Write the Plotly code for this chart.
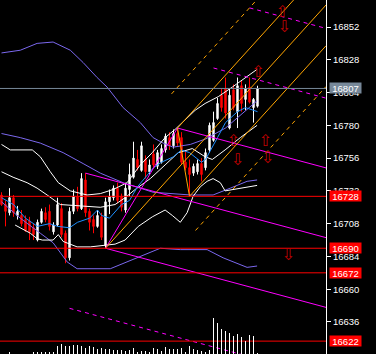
import plotly.graph_objects as go

# ---------------- data ----------------
opens = [16729, 16722, 16716, 16727, 16714, 16714, 16711, 16710, 16705, 16696,
         16709, 16716, 16717, 16702, 16707, 16719, 16701, 16683, 16717, 16728,
         16719, 16740, 16717, 16711, 16706, 16713, 16692, 16724, 16727, 16734,
         16728, 16718, 16733, 16742, 16755, 16747, 16755, 16746, 16759, 16750,
         16753, 16762, 16771, 16765, 16774, 16771, 16753, 16749, 16745, 16746,
         16752, 16749, 16762, 16769, 16785, 16802, 16807, 16778, 16806, 16790,
         16809, 16799, 16808, 16793, 16794]
highs = [16731, 16725, 16734, 16729, 16721, 16718, 16714, 16713, 16708, 16711,
         16719, 16720, 16722, 16709, 16727, 16723, 16703, 16720, 16733, 16735,
         16745, 16745, 16719, 16714, 16718, 16716, 16727, 16733, 16736, 16738,
         16730, 16738, 16752, 16768, 16762, 16768, 16758, 16755, 16766, 16762,
         16766, 16774, 16775, 16777, 16778, 16775, 16762, 16755, 16752, 16755,
         16756, 16763, 16782, 16790, 16800, 16807, 16815, 16807, 16810, 16815,
         16813, 16810, 16815, 16800, 16809]
lows = [16721, 16706, 16714, 16713, 16711, 16706, 16702, 16696, 16696, 16695,
        16708, 16709, 16703, 16700, 16706, 16698, 16679, 16681, 16715, 16717,
        16718, 16713, 16703, 16701, 16705, 16696, 16690, 16715, 16725, 16723,
        16717, 16716, 16728, 16741, 16747, 16746, 16741, 16744, 16749, 16748,
        16752, 16760, 16762, 16763, 16765, 16751, 16747, 16728, 16743, 16744,
        16739, 16747, 16760, 16768, 16784, 16790, 16785, 16777, 16791, 16778,
        16790, 16791, 16796, 16782, 16793]
closes = [16722, 16717, 16727, 16716, 16717, 16708, 16703, 16702, 16700, 16709,
          16717, 16711, 16706, 16707, 16722, 16700, 16683, 16717, 16728, 16719,
          16741, 16716, 16709, 16706, 16714, 16698, 16724, 16728, 16734, 16725,
          16720, 16734, 16744, 16756, 16749, 16765, 16746, 16751, 16751, 16760,
          16763, 16772, 16765, 16774, 16767, 16753, 16749, 16744, 16750, 16752,
          16744, 16760, 16780, 16782, 16796, 16793, 16789, 16802, 16793, 16809,
          16796, 16807, 16797, 16799, 16807]
volumes = [0, 0, 100, 0, 0, 0, 0, 0, 100, 65,
           65, 65, 65, 65, 400, 500, 400, 400, 450, 450,
           400, 300, 400, 350, 250, 300, 250, 250, 200, 200,
           200, 150, 200, 300, 100, 150, 150, 100, 300, 250,
           150, 350, 250, 250, 250, 300, 100, 400, 250, 200,
           150, 100, 200, 1800, 1550, 1250, 1150, 1050, 900, 1000,
           850, 650, 950, 900, 50]
bars = list(range(len(closes)))

# moving average (blue)
ma_k = [0, 3, 6, 9, 12, 14, 17, 19, 22, 24, 25, 27, 30, 32, 34, 38, 40, 43, 45, 47, 50, 51, 54, 56, 59, 61, 64]
ma_v = [16727, 16722, 16712, 16706, 16708, 16706, 16705, 16709, 16712, 16718, 16714, 16712, 16722, 16725,
        16735, 16749, 16753, 16757, 16762, 16760, 16753, 16755, 16771, 16782, 16790, 16793, 16790]

# white bands
wu_k = [0, 2.2, 7.7, 9.7, 12.2, 14.2, 17.2, 21.4, 24.7, 27.9, 31.4, 34.7, 37.7, 40.9, 43.4, 45.9, 48.4, 50.9, 54.2, 57.7, 60.9, 63.9]
wu_v = [16766, 16762, 16762, 16757, 16746, 16738, 16732, 16729, 16730, 16733, 16738, 16751, 16760, 16771,
        16777, 16784, 16791, 16796, 16801, 16808, 16815, 16821]
wm_k = [0, 2.9, 6.4, 8.9, 11.4, 14.7, 19.7, 24.7, 28.4, 30.9, 33.4, 37.2, 40.9, 44.2, 47.7, 50.9, 52.7, 55.9, 59.7, 63.9]
wm_v = [16746, 16742, 16738, 16734, 16729, 16722, 16721, 16720, 16722, 16727, 16733, 16741, 16751, 16760,
        16763, 16757, 16755, 16762, 16771, 16780]
wl_k = [3.4, 7.2, 8.9, 10.2, 12.9, 14.2, 15.4, 18.9, 22.2, 25.9, 28.4, 30.9, 34.2, 37.7, 40.9, 42.7, 44.7,
        46.4, 47.9, 49.7, 51.4, 52.9, 54.7, 55.9, 57.9, 61.4, 63.9]
wl_v = [16707, 16701, 16697, 16696, 16696, 16700, 16695, 16691, 16691, 16692, 16693, 16696, 16706, 16713,
        16718, 16714, 16709, 16716, 16728, 16735, 16739, 16741, 16738, 16732, 16733, 16735, 16736]

# slate-blue bands
su_k = [0, 4.7, 8.9, 12.9, 17.2, 20.4, 23.9, 26.4, 30.4, 34.7, 37.9, 40.4, 42.9, 47.2, 51, 56, 63.9]
su_v = [16833, 16835, 16840, 16841, 16835, 16826, 16815, 16808, 16793, 16782, 16771, 16767, 16764, 16766,
        16770, 16778, 16798]
sm_k = [0, 4.7, 9.7, 15.4, 20.4, 24.7, 30.4, 37.9, 47.2, 52.9, 57.2, 61.4, 63.9]
sm_v = [16774, 16771, 16767, 16760, 16752, 16745, 16738, 16731, 16729, 16729, 16734, 16739, 16740]
sl_k = [0, 4.7, 9.7, 12.9, 16.4, 18.9, 27.2, 32.2, 39.7, 44.7, 51.4, 55.4, 61.4, 63.9]
sl_v = [16724, 16712, 16701, 16694, 16680, 16675, 16675, 16681, 16690, 16689, 16689, 16683, 16676, 16677]

# pitchfork pivots (bar, price)
fork_orange_k = [26, 44, 47]
fork_orange_v = [16690, 16778, 16728]
fork_magenta_k = [21, 44, 26]
fork_magenta_v = [16745, 16778, 16690]

# horizontal levels
bid_price = 16807
red_levels = [16728, 16690, 16672, 16622]

# arrow marks
up_k = [70.2, 64.1, 57.9, 65.9]
up_v = [16862, 16818, 16768, 16768]
dn_k = [70.7, 59.0, 66.5, 71.7]
dn_v = [16851, 16754, 16755, 16684]

ytick_vals = [16636, 16660, 16684, 16708, 16732, 16756, 16780, 16804, 16828, 16852]

# ---------------- figure ----------------
X_MIN, X_MAX = -0.375, 81.125
Y_LO, Y_HI = 16612.56, 16871.77

ORANGE = "#FFA500"
MAGENTA = "#FF00FF"
SLATE = "#7B68EE"
BLUE = "#1E90FF"
RED = "#FF0000"
DASH = "4px,4px"

fig = go.Figure()

fig.add_trace(go.Bar(x=bars, y=volumes, width=0.25, marker=dict(color="white", line=dict(width=0)),
                     yaxis="y2", hoverinfo="skip"))

fig.add_trace(go.Candlestick(
    x=bars, open=opens, high=highs, low=lows, close=closes,
    increasing=dict(line=dict(color="white", width=1), fillcolor="white"),
    decreasing=dict(line=dict(color=RED, width=1), fillcolor=RED),
    whiskerwidth=0, hoverinfo="skip"))


def line(xs, ys, color, dash="solid", width=1):
    fig.add_trace(go.Scatter(x=xs, y=ys, mode="lines", line=dict(color=color, width=width, dash=dash),
                             hoverinfo="skip"))


for ks, vs, c in [(su_k, su_v, SLATE), (sm_k, sm_v, SLATE), (sl_k, sl_v, SLATE),
                  (wu_k, wu_v, "white"), (wm_k, wm_v, "white"), (wl_k, wl_v, "white"),
                  (ma_k, ma_v, BLUE)]:
    line(ks, vs, c)


def pitchfork(ks, vs, color, levels):
    k1, k2, k3 = ks
    v1, v2, v3 = vs
    mk, mv = (k2 + k3) / 2, (v2 + v3) / 2
    slope = (mv - v1) / (mk - k1)

    def ray(k0, v0, dash):
        line([k0, X_MAX], [v0, v0 + slope * (X_MAX - k0)], color, dash)

    ray(k1, v1, "solid")
    ray(k2, v2, "solid")
    ray(k3, v3, "solid")
    line([k2, k3], [v2, v3], color)
    for lv in levels:
        ray(mk + lv * (k2 - mk), mv + lv * (v2 - mv), DASH)


pitchfork(fork_magenta_k, fork_magenta_v, MAGENTA, [2, -2, 3, -3])
pitchfork(fork_orange_k, fork_orange_v, ORANGE, [2, -2])

line([X_MIN, X_MAX], [bid_price, bid_price], "#778899")
for lv in red_levels:
    line([X_MIN, X_MAX], [lv, lv], RED)

ARROW_FONT = dict(color="#C00000", size=16, family="DejaVu Sans")
fig.add_trace(go.Scatter(x=up_k, y=up_v, mode="text", text=["\u21e7"] * len(up_k),
                         textfont=ARROW_FONT, hoverinfo="skip"))
fig.add_trace(go.Scatter(x=dn_k, y=dn_v, mode="text", text=["\u21e9"] * len(dn_k),
                         textfont=ARROW_FONT, hoverinfo="skip"))

annotations = []
for lv, bg in [(bid_price, "#778899")] + [(lv, RED) for lv in red_levels]:
    annotations.append(dict(xref="paper", yref="y", x=1.0, y=lv, xanchor="left", yanchor="middle",
                            xshift=3, text=str(lv), showarrow=False, bgcolor=bg, borderpad=0,
                            width=31, height=10, align="center",
                            font=dict(color="white", size=9.5, family="Liberation Sans")))

fig.update_layout(
    width=376, height=354, autosize=False,
    margin=dict(l=0, r=50, t=0, b=0, pad=0),
    paper_bgcolor="black", plot_bgcolor="black",
    showlegend=False, boxgap=0.5,
    xaxis=dict(range=[X_MIN, X_MAX], visible=False, rangeslider=dict(visible=False), fixedrange=True),
    yaxis=dict(range=[Y_LO, Y_HI], side="right", tickvals=ytick_vals, ticktext=[str(v) for v in ytick_vals],
               ticks="outside", ticklen=4, tickcolor="white", showline=True, linecolor="white", linewidth=1,
               showgrid=False, zeroline=False,
               tickfont=dict(color="white", size=9.5, family="Liberation Sans")),
    yaxis2=dict(range=[0, 17700], overlaying="y", visible=False, fixedrange=True),
    annotations=annotations,
)

fig.write_html("out.html", config={"displayModeBar": False})
